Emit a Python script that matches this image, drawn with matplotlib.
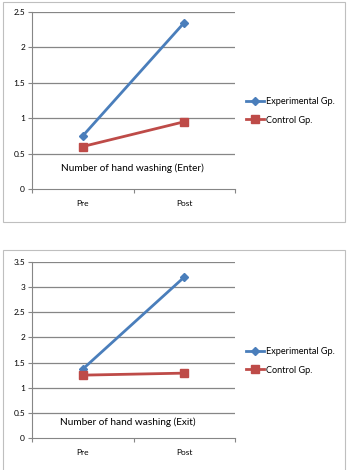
import matplotlib.pyplot as plt
from matplotlib.patches import Rectangle

# values
phases = ["Pre", "Post"]
enter_exp = [0.75, 2.35]
enter_ctrl = [0.6, 0.95]
exit_exp = [1.37, 3.2]
exit_ctrl = [1.25, 1.29]
series_names = ["Experimental Gp.", "Control Gp."]

W, H = 351, 470
BLUE = "#4a7ebb"
RED = "#be4b48"
GRID = "#868686"
FONT = "Lato"

fig = plt.figure(figsize=(W / 100, H / 100), dpi=100)


def px_axes(x0, y0, x1, y1):
	# pixel box (top-left origin) -> figure axes
	return fig.add_axes([x0 / W, 1 - y1 / H, (x1 - x0) / W, (y1 - y0) / H])


def panel(box, frame, exp, ctrl, ymax, title, title_xy, leg_y):
	fig.add_artist(Rectangle((frame[0] / W, 1 - frame[3] / H), (frame[2] - frame[0]) / W,
		(frame[3] - frame[1]) / H, transform=fig.transFigure, fill=False,
		edgecolor="#bfbfbf", linewidth=0.8))
	ax = px_axes(*box)
	xs = [0.5, 1.5]
	l1, = ax.plot(xs, exp, color=BLUE, lw=2.0, marker="D", ms=4.5, label=series_names[0])
	l2, = ax.plot(xs, ctrl, color=RED, lw=2.0, marker="s", ms=5.5, label=series_names[1])
	ax.set_xlim(0, 2)
	ax.set_ylim(0, ymax)
	ticks = [i * 0.5 for i in range(int(ymax / 0.5) + 1)]
	ax.set_yticks(ticks)
	ax.set_yticklabels([f"{t:g}" for t in ticks], fontsize=6, family=FONT)
	for t in ticks[1:]:
		ax.axhline(t, color=GRID, lw=0.9, zorder=0)
	ax.set_xticks([0, 1, 2])
	ax.set_xticklabels([])
	ax.set_xticks(xs, minor=True)
	ax.set_xticklabels(phases, minor=True, fontsize=6, family=FONT)
	ax.tick_params(axis="x", which="minor", length=0, pad=8)
	ax.tick_params(axis="x", which="major", length=3, direction="out", color=GRID)
	ax.tick_params(axis="y", length=3, direction="out", color=GRID, pad=2)
	for s in ["top", "right"]:
		ax.spines[s].set_visible(False)
	ax.spines["left"].set_color(GRID)
	ax.spines["bottom"].set_color(GRID)
	fig.text(title_xy[0] / W, 1 - title_xy[1] / H, title, ha="center", va="center",
		fontsize=7.2, family=FONT)
	fig.legend([l1, l2], series_names, loc="center left",
		bbox_to_anchor=(246 / W, 1 - leg_y / H), frameon=False,
		prop={"family": FONT, "size": 6.6}, handlelength=2.0, labelspacing=1.0,
		handletextpad=0.15, borderaxespad=0, borderpad=0)


panel((32, 12, 235, 189), (3, 2, 345, 222), enter_exp, enter_ctrl, 2.5,
	"Number of hand washing (Enter)", (132, 168), 111)
panel((32, 262, 235, 438), (3, 250, 345, 475), exit_exp, exit_ctrl, 3.5,
	"Number of hand washing (Exit)", (128, 422), 361)

fig.savefig("out.png", dpi=100)
